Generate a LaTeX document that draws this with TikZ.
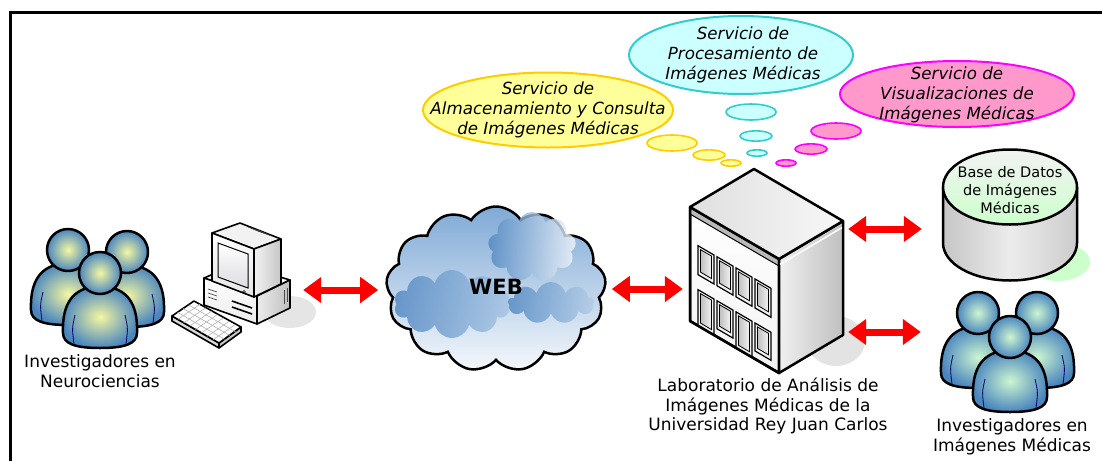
\documentclass[tikz,border=0pt]{standalone}
\usepackage{fontspec}
\setmainfont{DejaVu Sans}
\usetikzlibrary{arrows.meta, shapes.geometric, shapes.symbols, positioning}

\definecolor{amarillo}{HTML}{FFFF99}
\definecolor{amarilloBorde}{HTML}{FFCC00}
\definecolor{cian}{HTML}{CCFFFF}
\definecolor{cianBorde}{HTML}{33CCCC}
\definecolor{rosa}{HTML}{FF99CC}
\definecolor{rosaBorde}{HTML}{FF00FF}
\definecolor{azulPersona}{HTML}{4A86BE}
\definecolor{amarilloPersona}{HTML}{F5F7A2}
\definecolor{verdePersona}{HTML}{CDF5D0}
\definecolor{verdeBD}{HTML}{CCFFCC}
\definecolor{nubeArriba}{HTML}{7FAAD6}
\definecolor{nubeAbajo}{HTML}{F5F8FC}
\definecolor{nubeOscura}{HTML}{4F86C1}

% persona: cabeza en (#1,#2), colores interior/exterior
\newcommand\investigador[4]{%
  \path[contorno, inner color=#3, outer color=#4]
    (#1-37,#2+60) .. controls (#1-38,#2+33) and (#1-29,#2+14) .. (#1,#2+13)
    .. controls (#1+29,#2+14) and (#1+38,#2+33) .. (#1+37,#2+60)
    .. controls (#1+37,#2+71) and (#1+24,#2+75) .. (#1,#2+75)
    .. controls (#1-24,#2+75) and (#1-37,#2+71) .. cycle;
  \draw[brazo] (#1-25,#2+42) .. controls (#1-28,#2+55) .. (#1-26,#2+71);
  \draw[brazo] (#1+25,#2+42) .. controls (#1+28,#2+55) .. (#1+26,#2+71);
  \path[contorno, inner color=#3, outer color=#4] (#1,#2) circle [radius=21];
}
% ventana de la fachada (coordenadas de la cara frontal)
\newcommand\ventana[3]{%
  \path[draw=black, line width=1.2pt, fill=gray!10] (#1,#2) rectangle (#1+16,#3);
  \path[draw=black, line width=0.8pt, left color=gray!50, right color=gray!10] (#1+2.5,#2+2.5) rectangle (#1+13.5,#3-4);
}

\begin{document}
\begin{tikzpicture}[x=1pt,y=-1pt,
    etiqueta/.style={align=center, font=\fontsize{17}{19.5}\selectfont},
    servicio/.style={align=center, font=\fontsize{16.7}{20}\selectfont\itshape},
    flecha/.style={draw=red, line width=7pt, {Triangle[width=25pt,length=18pt]}-{Triangle[width=25pt,length=18pt]}},
    contorno/.style={draw=black, line width=2.5pt, line join=round},
    brazo/.style={draw=blue!40!black, line width=0.8pt},
    hueco/.style={inner sep=0pt, draw=none},
    pieza/.style={draw=black, line width=1.6pt, line join=round}]
  \useasboundingbox (0,0) rectangle (1102,461);
  \draw[line width=3pt] (10,461) -- (10,12) -- (1102,12);

  % burbujas de servicios
  \path[draw=amarilloBorde, fill=amarillo, line width=2pt] (548,110) ellipse [x radius=125, y radius=37.5];
  \path[draw=cianBorde, fill=cian, line width=2pt] (741,55) ellipse [x radius=112, y radius=39];
  \path[draw=rosaBorde, fill=rosa, line width=2pt] (957,94) ellipse [x radius=117, y radius=33];
  \foreach \x/\y/\r in {672/143/25, 709/155/16, 731/163/10}
    \path[draw=amarilloBorde, fill=amarillo, line width=1.6pt] (\x,\y) ellipse [x radius=\r, y radius=\r*0.32];
  \foreach \x/\y/\r in {751/112/25, 756/136/16, 757/153/10}
    \path[draw=cianBorde, fill=cian, line width=1.6pt] (\x,\y) ellipse [x radius=\r, y radius=\r*0.32];
  \foreach \x/\y/\r in {836/131/25, 811/149/16, 786/163/10}
    \path[draw=rosaBorde, fill=rosa, line width=1.6pt] (\x,\y) ellipse [x radius=\r, y radius=\r*0.32];
  \node[servicio] (almacen) at (548,110) {Servicio de\\Almacenamiento y Consulta\\de Imágenes Médicas};
  \node[servicio] (proceso) at (743,55) {Servicio de\\Procesamiento de\\Imágenes Médicas};
  \node[servicio] (visual) at (957,95) {Servicio de\\Visualizaciones de\\Imágenes Médicas};

  % investigadores en neurociencias
  \investigador{68}{250}{amarilloPersona}{azulPersona}
  \investigador{127}{252}{amarilloPersona}{azulPersona}
  \investigador{100}{273}{amarilloPersona}{azulPersona}
  \node[hueco, minimum width=134pt, minimum height=110pt] (grpL) at (97,290) {};
  \node[etiqueta] (lblNeuro) at (100,371) {Investigadores en\\Neurociencias};

  % ordenador
  \fill[gray!20] (290,312) ellipse [x radius=26, y radius=16];
  \path[pieza, fill=gray!5] (204,278) -- (237,264) -- (290,280) -- (257,296) -- cycle;
  \path[pieza, top color=white, bottom color=gray!15] (204,278) -- (257,296) -- (257,324) -- (204,305) -- cycle;
  \path[pieza, left color=gray!15, right color=gray!50] (257,296) -- (290,280) -- (290,308) -- (257,324) -- cycle;
  \draw[line width=1.6pt] (232,301) -- (252,308) (232,307) -- (252,314);
  \draw[gray!60!black, line width=0.7pt] (208,289) -- (217,292) (208,293) -- (217,296) (208,297) -- (217,300);
  \draw[gray!60!black, line width=0.7pt] (284,290) -- (284,304) (287,288) -- (287,302);
  \path[pieza, fill=gray!10] (212,233) -- (240,223) -- (281,239) -- (254,249) -- cycle;
  \path[pieza, left color=gray!10, right color=gray!45] (254,249) -- (281,239) -- (281,284) -- (254,297) -- cycle;
  \path[pieza, top color=white, bottom color=gray!20] (212,233) -- (254,249) -- (254,297) -- (212,281) -- cycle;
  \path[draw=black, line width=1pt, top color=white, bottom color=blue!10!gray!25] (218,243) -- (248,254) -- (248,288) -- (218,277) -- cycle;
  \draw[line width=0.6pt] (244,292) circle [radius=1.5];
  \foreach \k in {0,3,6,9}
    \draw[gray!50!black, line width=0.7pt] (248+\k,227+\k*0.4) -- (262+\k,232+\k*0.4);
  \path[pieza, fill=gray!30] (172,316) -- (219,343) -- (219,348) -- (172,321) -- cycle;
  \path[pieza, fill=gray!45] (219,343) -- (241,327) -- (241,332) -- (219,348) -- cycle;
  \path[pieza, fill=white] (172,316) -- (194,301) -- (241,327) -- (219,343) -- cycle;
  \foreach \f in {0.25,0.5,0.75}
    \draw[gray!60, line width=0.6pt] (172+22*\f,316-15*\f) -- (219+22*\f,343-15*\f);
  \foreach \g in {0.125,0.25,...,0.9}
    \draw[gray!60, line width=0.6pt] (172+47*\g,316+27*\g) -- (194+47*\g,301+27*\g);
  \node[hueco, minimum width=116pt, minimum height=100pt] (pc) at (245,290) {};

  % la nube
  \node[cloud, cloud puffs=13, cloud puff arc=115, aspect=1.3, draw=black, line width=2.5pt,
        top color=nubeArriba, bottom color=nubeAbajo, minimum width=220pt, minimum height=165pt, inner sep=0pt] (web) at (496,289) {};
  \node[cloud, cloud puffs=10, left color=nubeOscura, right color=nubeArriba!70, opacity=.8, minimum width=116pt, minimum height=68pt] (puff1) at (452,304) {};
  \node[cloud, cloud puffs=9, left color=nubeOscura, right color=nubeAbajo, opacity=.8, minimum width=88pt, minimum height=70pt] (puff2) at (532,247) {};
  \node[cloud, cloud puffs=9, left color=nubeOscura, right color=nubeArriba!60, opacity=.8, minimum width=86pt, minimum height=42pt] (puff3) at (551,303) {};
  \node[font=\bfseries\fontsize{21}{21}\selectfont] (webtxt) at (496,287) {WEB};

  % laboratorio
  \fill[gray!22] (836,341) ellipse [x radius=29, y radius=25];
  \begin{scope}[shift={(690,207)}, yslant=-0.584]
    \path[contorno, top color=white, bottom color=gray!10] (0,0) rectangle (89,114);
    \path[draw=black, line width=1pt, fill=gray!55] (0,0) rectangle (89,7);
    \ventana{8}{34}{63} \ventana{27}{34}{63} \ventana{46}{34}{63} \ventana{65}{34}{63}
    \ventana{8}{78}{114} \ventana{27}{78}{106} \ventana{46}{78}{114} \ventana{65}{78}{106}
    \draw[contorno] (0,0) rectangle (89,114);
  \end{scope}
  \begin{scope}[shift={(779,259)}, yslant=0.594]
    \path[contorno, left color=gray!12, right color=gray!50] (0,0) rectangle (64,114);
    \draw[white, line width=1.5pt] (1,6) -- (63,6);
  \end{scope}
  \path[contorno, left color=gray!25, right color=gray!6] (690,207) -- (754,169) -- (843,221) -- (779,259) -- cycle;
  \node[hueco, minimum width=153pt, minimum height=205pt] (lab) at (766.5,270) {};
  \node[etiqueta] (lblLab) at (768,406) {Laboratorio de Análisis de\\Imágenes Médicas de la\\Universidad Rey Juan Carlos};

  % base de datos
  \fill[verdeBD] (1058,262) ellipse [x radius=32, y radius=19];
  \path[contorno, left color=gray!45, right color=gray!40, middle color=gray!15]
    (943,187) -- (943,243) arc [start angle=180, end angle=0, x radius=67, y radius=37.5] -- (1077,187) -- cycle;
  \path[contorno, top color=gray!10, bottom color=verdeBD] (1010,187) ellipse [x radius=67, y radius=37.5];
  \node[align=center, font=\fontsize{14.5}{18}\selectfont] (bdtxt) at (1010,190) {Base de Datos\\de Imágenes\\Médicas};
  \node[hueco, minimum width=134pt, minimum height=60pt] (db) at (1010,229) {};

  % investigadores en imagenes medicas
  \investigador{978}{313}{verdePersona}{azulPersona}
  \investigador{1037}{313}{verdePersona}{azulPersona}
  \investigador{1010}{337}{verdePersona}{azulPersona}
  \node[hueco, minimum width=132pt, minimum height=80pt] (grpR) at (1008,332) {};
  \node[etiqueta] (lblMed) at (1012,437) {Investigadores en\\Imágenes Médicas};

  % conexiones
  \draw[flecha, shorten >=8pt] (pc.east) -- (pc.east -| web.west);
  \draw[flecha, shorten <=6pt, shorten >=7pt] (web.east) -- (web.east -| lab.west);
  \draw[flecha, shorten <=5pt, shorten >=21pt] (lab.east |- db.west) -- (db.west);
  \draw[flecha, shorten <=5pt, shorten >=21pt] (lab.east |- grpR.west) -- (grpR.west);
\end{tikzpicture}
\end{document}
